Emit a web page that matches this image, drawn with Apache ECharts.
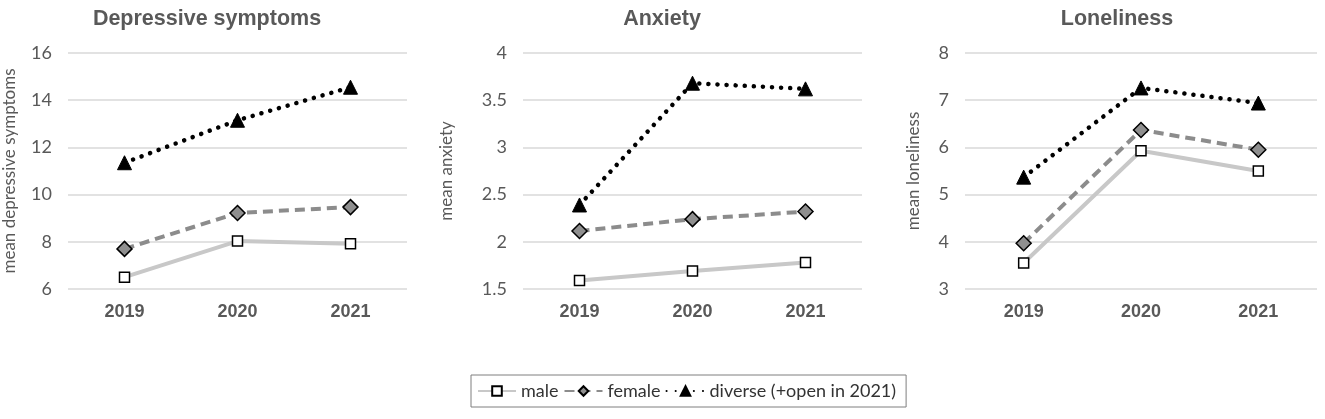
<!DOCTYPE html>
<html><head><meta charset="utf-8">
<script src="https://cdn.jsdelivr.net/npm/echarts@6/dist/echarts.min.js"></script>
<style>html,body{margin:0;padding:0;background:#fff}#c{width:1325px;height:419px}</style>
</head><body><div id="c"></div>
<script>
const years = ['2019', '2020', '2021'];
const panelTitles = ['Depressive symptoms', 'Anxiety', 'Loneliness'];
const axisNames = ['mean depressive symptoms', 'mean anxiety', 'mean loneliness'];
const seriesNames = ['male', 'female', 'diverse (+open in 2021)'];
// Depressive symptoms
const depMale = [6.5, 8.03, 7.92];
const depFemale = [7.7, 9.22, 9.47];
const depDiverse = [11.35, 13.15, 14.55];
// Anxiety
const anxMale = [1.59, 1.69, 1.78];
const anxFemale = [2.115, 2.24, 2.32];
const anxDiverse = [2.39, 3.68, 3.62];
// Loneliness
const lonMale = [3.55, 5.93, 5.5];
const lonFemale = [3.97, 6.37, 5.95];
const lonDiverse = [5.37, 7.26, 6.94];
// axis ranges
const yMin = [6, 1.5, 3];
const yMax = [16, 4, 8];
const yStep = [2, 0.5, 1];

const panelData = [
  [depMale, depFemale, depDiverse],
  [anxMale, anxFemale, anxDiverse],
  [lonMale, lonFemale, lonDiverse]
];

const grids = [
  {left: 63, width: 344, top: 53, height: 236},
  {left: 523, width: 339, top: 53, height: 236},
  {left: 965, width: 352, top: 53, height: 236}
];
const titleX = [202, 657, 1112];
const nameGaps = [50, 68, 43];
const gray = '#595959';

const styles = [
  {symbol: 'rect', symbolSize: 10, itemStyle: {color: '#fff', borderColor: '#000', borderWidth: 1.5},
   lineStyle: {color: '#c8c8c8', width: 4, type: 'solid'}},
  {symbol: 'diamond', symbolSize: 15, itemStyle: {color: '#8f8f8f', borderColor: '#000', borderWidth: 1.5},
   lineStyle: {color: '#8c8c8c', width: 4, type: [10, 6]}},
  {symbol: 'triangle', symbolSize: 14, itemStyle: {color: '#000', borderColor: '#000', borderWidth: 1},
   lineStyle: {color: '#000', width: 4.5, type: [0.1, 9], cap: 'round'}}
];

const option = {
  animation: false,
  title: panelTitles.map((t, i) => ({
    text: t, left: titleX[i], top: 3, textAlign: 'center',
    textStyle: {fontFamily: 'Liberation Sans', fontWeight: 'bold', fontSize: 21.5, color: gray}
  })),
  legend: {
    data: seriesNames,
    left: 471, top: 375,
    padding: [7, 10, 7, 6],
    borderColor: '#7f7f7f', borderWidth: 1,
    itemWidth: 38, itemHeight: 12, itemGap: 5,
    textStyle: {fontFamily: 'Lato', fontSize: 18, color: '#333'}
  },
  grid: grids,
  xAxis: grids.map((g, i) => ({
    type: 'category', gridIndex: i, data: years, boundaryGap: true,
    axisLine: {show: false}, axisTick: {show: false},
    axisLabel: {margin: 14, fontFamily: 'Liberation Sans', fontWeight: 'bold', fontSize: 18, color: gray}
  })),
  yAxis: grids.map((g, i) => ({
    type: 'value', gridIndex: i, min: yMin[i], max: yMax[i], interval: yStep[i],
    name: axisNames[i], nameLocation: 'middle', nameGap: nameGaps[i], nameRotate: 90,
    nameTextStyle: {fontFamily: 'Lato', fontSize: 17, color: gray},
    axisLine: {show: false}, axisTick: {show: false},
    axisLabel: {margin: 16, fontFamily: 'Lato', fontSize: 18, color: gray},
    splitLine: {lineStyle: {color: '#d9d9d9', width: 1.5}}
  })),
  series: []
};

panelData.forEach((arr, p) => {
  arr.forEach((vals, s) => {
    option.series.push(Object.assign({
      type: 'line', name: seriesNames[s], xAxisIndex: p, yAxisIndex: p,
      data: vals, z: 2 + s
    }, JSON.parse(JSON.stringify(styles[s]))));
  });
});

const chart = echarts.init(document.getElementById('c'));
chart.setOption(option);
</script></body></html>
